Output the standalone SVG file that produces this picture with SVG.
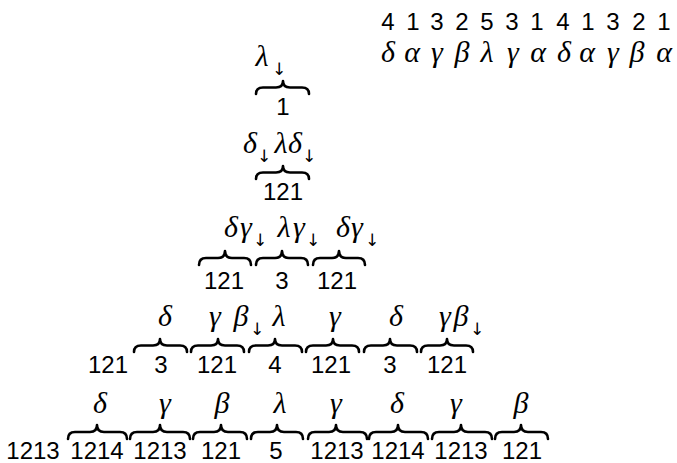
<svg xmlns="http://www.w3.org/2000/svg" width="677" height="463" viewBox="0 0 677 463">
<style>
.num{font-family:"Liberation Sans",Arial,sans-serif;font-size:24px;fill:#000;text-anchor:middle}
.gr{font-family:"Liberation Serif","DejaVu Serif",serif;font-style:italic;font-size:30px;fill:#000;text-anchor:middle}
.ar{font-family:"DejaVu Sans",sans-serif;font-size:17px;fill:#000;text-anchor:middle}
.br{fill:none;stroke:#000;stroke-width:2.6;stroke-linecap:round;stroke-linejoin:round}
</style>
<rect width="677" height="463" fill="#fff"/>
<g id="legend">
<text class="num" y="30" x="388 413 437 462 487 512 537 563 588 613 639 664">413253141321</text>
<text class="gr" y="62" x="388 412 437 462 487 513 538 564 587 613 637 664">δαγβλγαδαγβα</text>
</g>
<g id="level1">
<g id="n1-1"><text class="gr" x="262" y="66">λ</text><text class="ar" x="279" y="75">↓</text>
<path class="br" d="M256 94 Q256 87.5 263 87.5 L276 87.5 Q283 87.5 283 81 Q283 87.5 290 87.5 L302 87.5 Q309 87.5 309 94"/>
<text class="num" x="283" y="115">1</text></g>
</g>
<g id="level2">
<g id="n2-1"><text class="gr" x="250" y="153">δ</text><text class="ar" x="264" y="162">↓</text><text class="gr" x="281" y="153">λ</text><text class="gr" x="295" y="153">δ</text><text class="ar" x="309" y="162">↓</text>
<path class="br" d="M256 179 Q256 172.5 263 172.5 L276 172.5 Q283 172.5 283 166 Q283 172.5 290 172.5 L302 172.5 Q309 172.5 309 179"/>
<text class="num" x="283" y="200">121</text></g>
</g>
<g id="level3">
<g id="n3-1"><text class="gr" x="231" y="237">δ</text><text class="gr" x="246" y="237">γ</text><text class="ar" x="260" y="246">↓</text>
<path class="br" d="M199 265 Q199 258 206 258 L218 258 Q225 258 225 251 Q225 258 232 258 L244 258 Q251 258 251 265"/>
<text class="num" x="224" y="289">121</text></g>
<g id="n3-2"><text class="gr" x="284" y="237">λ</text><text class="gr" x="299" y="237">γ</text><text class="ar" x="313" y="246">↓</text>
<path class="br" d="M256 265 Q256 258 263 258 L275 258 Q282 258 282 251 Q282 258 289 258 L301 258 Q308 258 308 265"/>
<text class="num" x="282" y="289">3</text></g>
<g id="n3-3"><text class="gr" x="343" y="237">δ</text><text class="gr" x="357" y="237">γ</text><text class="ar" x="372" y="246">↓</text>
<path class="br" d="M313 265 Q313 258 320 258 L332 258 Q339 258 339 251 Q339 258 346 258 L358 258 Q365 258 365 265"/>
<text class="num" x="337" y="289">121</text></g>
</g>
<g id="level4">
<g id="n4-0"><text class="num" x="108" y="373">121</text></g>
<g id="n4-1"><text class="gr" x="165" y="326">δ</text>
<path class="br" d="M134 352 Q134 345.5 141 345.5 L153 345.5 Q160 345.5 160 339 Q160 345.5 167 345.5 L180 345.5 Q187 345.5 187 352"/>
<text class="num" x="161" y="373">3</text></g>
<g id="n4-2"><text class="gr" x="215" y="326">γ</text><text class="gr" x="241" y="326">β</text><text class="ar" x="257" y="335">↓</text>
<path class="br" d="M191 352 Q191 345.5 198 345.5 L211 345.5 Q218 345.5 218 339 Q218 345.5 225 345.5 L237 345.5 Q244 345.5 244 352"/>
<text class="num" x="217" y="373">121</text></g>
<g id="n4-3"><text class="gr" x="279" y="326">λ</text>
<path class="br" d="M249 352 Q249 345.5 256 345.5 L268 345.5 Q275 345.5 275 339 Q275 345.5 282 345.5 L295 345.5 Q302 345.5 302 352"/>
<text class="num" x="275" y="373">4</text></g>
<g id="n4-4"><text class="gr" x="335" y="326">γ</text>
<path class="br" d="M306 352 Q306 345.5 313 345.5 L326 345.5 Q333 345.5 333 339 Q333 345.5 340 345.5 L352 345.5 Q359 345.5 359 352"/>
<text class="num" x="331" y="373">121</text></g>
<g id="n4-5"><text class="gr" x="396" y="326">δ</text>
<path class="br" d="M364 352 Q364 345.5 371 345.5 L383 345.5 Q390 345.5 390 339 Q390 345.5 397 345.5 L410 345.5 Q417 345.5 417 352"/>
<text class="num" x="390" y="373">3</text></g>
<g id="n4-6"><text class="gr" x="445" y="326">γ</text><text class="gr" x="461" y="326">β</text><text class="ar" x="477" y="335">↓</text>
<path class="br" d="M421 352 Q421 345.5 428 345.5 L440 345.5 Q447 345.5 447 339 Q447 345.5 454 345.5 L466 345.5 Q473 345.5 473 352"/>
<text class="num" x="447" y="373">121</text></g>
</g>
<g id="level5">
<g id="n5-0"><text class="num" x="33" y="459">1213</text></g>
<g id="n5-1"><text class="gr" x="100" y="413">δ</text>
<path class="br" d="M68 439 Q68 432 75 432 L90 432 Q97 432 97 425 Q97 432 104 432 L120 432 Q127 432 127 439"/>
<text class="num" x="97" y="459">1214</text></g>
<g id="n5-2"><text class="gr" x="165" y="413">γ</text>
<path class="br" d="M130 439 Q130 432 137 432 L153 432 Q160 432 160 425 Q160 432 167 432 L183 432 Q190 432 190 439"/>
<text class="num" x="160" y="459">1213</text></g>
<g id="n5-3"><text class="gr" x="222" y="413">β</text>
<path class="br" d="M193 439 Q193 432 200 432 L214 432 Q221 432 221 425 Q221 432 228 432 L240 432 Q247 432 247 439"/>
<text class="num" x="221" y="459">121</text></g>
<g id="n5-4"><text class="gr" x="280" y="413">λ</text>
<path class="br" d="M251 439 Q251 432 258 432 L270 432 Q277 432 277 425 Q277 432 284 432 L296 432 Q303 432 303 439"/>
<text class="num" x="276" y="459">5</text></g>
<g id="n5-5"><text class="gr" x="336" y="413">γ</text>
<path class="br" d="M308 439 Q308 432 315 432 L329 432 Q336 432 336 425 Q336 432 343 432 L360 432 Q367 432 367 439"/>
<text class="num" x="337" y="459">1213</text></g>
<g id="n5-6"><text class="gr" x="397" y="413">δ</text>
<path class="br" d="M369 439 Q369 432 376 432 L391 432 Q398 432 398 425 Q398 432 405 432 L421 432 Q428 432 428 439"/>
<text class="num" x="398" y="459">1214</text></g>
<g id="n5-7"><text class="gr" x="456" y="413">γ</text>
<path class="br" d="M432 439 Q432 432 439 432 L454 432 Q461 432 461 425 Q461 432 468 432 L485 432 Q492 432 492 439"/>
<text class="num" x="461" y="459">1213</text></g>
<g id="n5-8"><text class="gr" x="521" y="413">β</text>
<path class="br" d="M495 439 Q495 432 502 432 L514 432 Q521 432 521 425 Q521 432 528 432 L541 432 Q548 432 548 439"/>
<text class="num" x="522" y="459">121</text></g>
</g>
<g id="connectors"/>
</svg>
